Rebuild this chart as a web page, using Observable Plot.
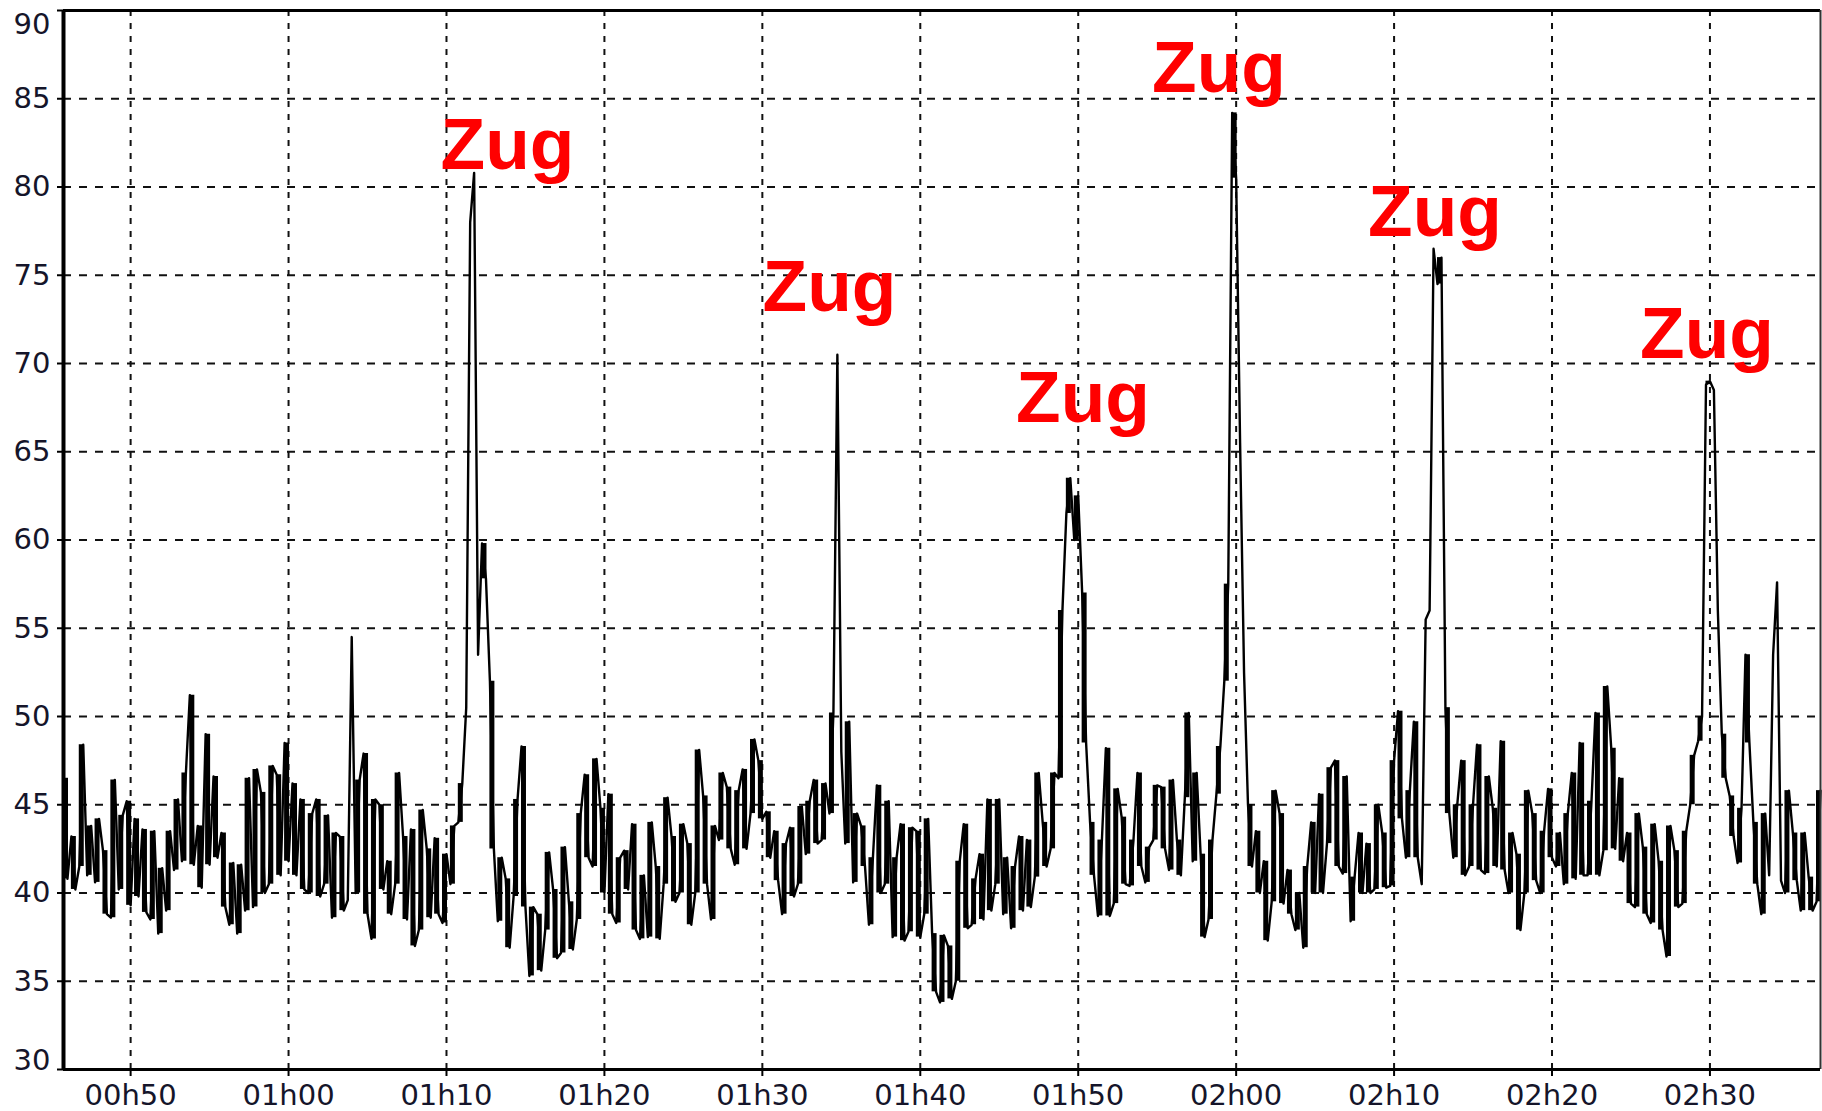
<!DOCTYPE html>
<html>
<head>
<meta charset="utf-8">
<script src="https://cdn.jsdelivr.net/npm/d3@7"></script>
<script src="https://cdn.jsdelivr.net/npm/@observablehq/plot@0.6"></script>
<style>
  html, body { margin: 0; padding: 0; background: #fff; }
  #chart { width: 1822px; height: 1111px; overflow: hidden; }
</style>
</head>
<body>
<div id="chart"></div>
<script>
// Time axis in minutes after midnight; one sample every 15 seconds
const startMinute = 45.75;
const stepMinutes = 0.25;
const level = [
  46.5,40.8, 43.2,40.2, 41.5,48.4, 41.0,43.8, 40.6,44.2, 42.4,38.8, 38.6,46.4, 40.2,44.4, 45.2,39.3, 44.2,39.8,
  43.6,38.9, 38.5,43.5, 37.7,41.4, 39.0,43.5, 41.3,45.3, 41.8,46.8, 51.2,41.6, 43.8,40.3, 49.0,41.6, 46.6,42.0,
  43.4,39.2, 38.2,41.7, 37.7,41.6, 39.0,46.5, 39.2,47.0, 45.7,40.0, 40.5,47.2, 46.7,41.0, 48.5,41.8, 46.2,41.0,
  45.3,40.2, 40.0,44.5, 45.3,39.8, 40.5,44.4, 38.6,43.4, 43.2,39.0, 39.6,54.5, 40.0,46.4, 47.9,38.8, 37.4,45.3,
  45.0,40.2, 41.8,38.8, 40.5,46.8, 43.2,38.5, 43.6,37.0, 37.9,44.7, 42.5,38.6, 43.1,38.8, 38.3,42.2, 40.5,43.8,
  44.0,46.2, 50.5,78.0, 80.8,53.5, 59.8,57.8, 52.0,42.5, 38.4,42.0, 40.8,36.9, 39.8,45.3, 48.3,39.2, 35.3,39.2,
  38.8,35.6, 37.9,42.3, 40.2,36.3, 36.6,42.6, 39.5,36.8, 38.5,44.5, 46.7,42.0, 41.5,47.6, 44.8,40.0, 45.6,38.8,
  38.3,42.0, 42.4,40.2, 43.9,37.9, 37.4,41.0, 37.5,44.0, 41.5,37.4, 40.5,45.4, 43.2,39.5, 40.0,43.9, 42.8,38.2,
  40.0,48.1, 45.5,40.5, 38.5,43.8, 43.0,46.8, 46.0,42.5, 41.6,45.8, 47.0,42.5, 44.5,48.7, 47.5,44.2, 44.6,42.0,
  43.5,40.7, 38.8,42.8, 43.7,39.8, 40.5,44.9, 42.2,45.2, 46.4,42.8, 43.0,46.2, 44.5,50.2, 70.5,48.0, 42.8,49.7,
  40.6,44.5, 43.8,41.5, 38.2,42.0, 46.1,40.0, 40.5,45.2, 37.5,42.0, 43.9,37.3, 37.8,43.7, 43.5,37.5, 38.8,44.2,
  37.7,34.4, 33.8,37.6, 37.0,34.0, 35.0,41.8, 43.9,38.0, 38.2,40.8, 42.2,38.5, 45.3,39.0, 40.5,45.3, 38.8,42.0,
  38.0,41.5, 43.2,39.0, 43.0,39.2, 40.9,46.8, 44.0,41.5, 42.5,46.8, 46.5,56.0, 61.5,63.5, 60.0,62.5, 57.0,48.5,
  44.0,41.0, 38.7,43.0, 48.2,38.7, 39.4,45.9, 44.3,40.5, 40.4,43.0, 46.8,41.5, 40.6,42.6, 43.0,46.1, 46.0,42.5,
  41.3,46.4, 43.0,41.0, 45.4,50.2, 41.8,46.8, 42.2,37.5, 38.5,43.0, 45.6,48.3, 52.0,57.5, 84.2,80.5, 65.5,52.5,
  45.0,41.5, 43.5,40.0, 41.8,37.3, 39.5,45.8, 44.5,39.4, 41.3,38.8, 37.9,40.0, 36.9,41.5, 44.0,40.0, 45.6,40.0,
  42.8,47.1, 47.5,41.5, 41.1,46.6, 38.4,40.9, 43.4,40.0, 42.8,40.0, 40.2,45.0, 43.4,40.3, 40.4,47.5, 50.3,44.2,
  42.0,45.8, 49.7,42.0, 40.5,55.5, 56.0,76.5, 74.5,76.0, 50.5,44.5, 42.0,45.0, 47.5,41.0, 41.5,45.0, 48.4,41.3,
  41.1,46.6, 44.8,41.5, 48.6,41.3, 40.0,43.4, 42.2,37.9, 40.0,45.8, 44.5,40.7, 40.0,43.5, 45.9,42.0, 41.5,43.4,
  40.5,44.5, 46.8,40.8, 48.5,41.0, 41.0,45.2, 50.2,41.0, 42.4,51.7, 48.2,42.5, 46.5,41.8, 43.4,39.4, 39.2,44.5,
  42.6,38.8, 38.3,43.9, 41.8,37.9, 36.4,43.8, 42.4,39.2, 39.4,43.5, 45.0,47.8, 48.6,50.0, 68.8,69.0, 68.5,56.0,
  49.0,46.5, 45.5,43.2, 41.7,44.8, 53.5,48.5, 44.0,40.5, 38.8,44.5, 41.0,53.5, 57.6,40.7, 40.0,45.8, 43.4,40.7,
  39.0,43.4, 40.9,39.0, 39.5,45.8
];

const xDomain = [45.75, 157];
const yDomain = [30, 90];
const xTicks = [50, 60, 70, 80, 90, 100, 110, 120, 130, 140, 150];
const yTicks = [30, 35, 40, 45, 50, 55, 60, 65, 70, 75, 80, 85, 90];

const zugLabels = ["Zug", "Zug", "Zug", "Zug", "Zug", "Zug"];
const zugTimes  = [73.86, 94.25, 110.3, 118.91, 132.59, 149.81];
const zugLevels = [81.0, 73.0, 66.7, 85.4, 77.2, 70.3];

const samples = level.map((v, i) => ({t: startMinute + i * stepMinutes, v}));
// pair consecutive samples (each half minute) to show the dense fluctuation band
const pairs = [];
for (let i = 0; i + 1 < level.length; i += 2) {
  const a = level[i], b = level[i + 1];
  pairs.push({t: startMinute + (i + 0.5) * stepMinutes, lo: Math.min(a, b), hi: Math.max(a, b)});
}
const bandPairs = pairs.filter(d => d.hi - d.lo < 12);
const zug = zugLabels.map((text, i) => ({text, t: zugTimes[i], v: zugLevels[i]}));
const fmt = m => String(Math.floor(m / 60)).padStart(2, "0") + "h" + String(m % 60).padStart(2, "0");

const inner = yTicks.filter(d => d > yDomain[0] && d < yDomain[1]);

const chart = Plot.plot({
  width: 1822,
  height: 1111,
  marginLeft: 63,
  marginRight: 2,
  marginTop: 10,
  marginBottom: 42,
  x: {domain: xDomain, label: null},
  y: {domain: yDomain, label: null},
  style: {fontFamily: "'DejaVu Sans', sans-serif", fontSize: "29px", color: "#15152a", background: "#fff"},
  marks: [
    Plot.gridY(inner, {stroke: "#111", strokeOpacity: 1, strokeWidth: 2, strokeDasharray: "8,8"}),
    Plot.gridX(xTicks, {stroke: "#111", strokeOpacity: 1, strokeWidth: 2, strokeDasharray: "6,7"}),
    Plot.ruleX(bandPairs, {x: "t", y1: "lo", y2: "hi", stroke: "#000", strokeWidth: 5}),
    Plot.line(samples, {x: "t", y: "v", stroke: "#000", strokeWidth: 2.4}),
    Plot.ruleY([yDomain[1]], {stroke: "#000", strokeWidth: 3}),
    Plot.ruleX([xDomain[1]], {stroke: "#333", strokeWidth: 2}),
    Plot.ruleY([yDomain[0]], {stroke: "#000", strokeWidth: 3}),
    Plot.ruleX([xDomain[0]], {stroke: "#000", strokeWidth: 4}),
    Plot.axisX(xTicks, {tickSize: 7, tickPadding: 8, tickFormat: fmt, label: null, stroke: "#000", strokeWidth: 2}),
    Plot.axisY(yTicks, {tickSize: 6, tickPadding: 7, label: null, stroke: "#000", strokeWidth: 2,
      tickFormat: d => (d === yDomain[0] || d === yDomain[1]) ? "" : d}),
    Plot.axisY([yDomain[1]], {tickSize: 0, tickPadding: 13, dy: 14, label: null}),
    Plot.axisY([yDomain[0]], {tickSize: 0, tickPadding: 13, dy: -9, label: null}),
    Plot.text(zug, {x: "t", y: "v", text: "text", fill: "#ff0000", fontWeight: "bold",
      fontSize: 73, fontFamily: "'Liberation Sans', Arial, sans-serif", textAnchor: "middle", lineAnchor: "bottom"})
  ]
});

document.getElementById("chart").appendChild(chart);
</script>
</body>
</html>
